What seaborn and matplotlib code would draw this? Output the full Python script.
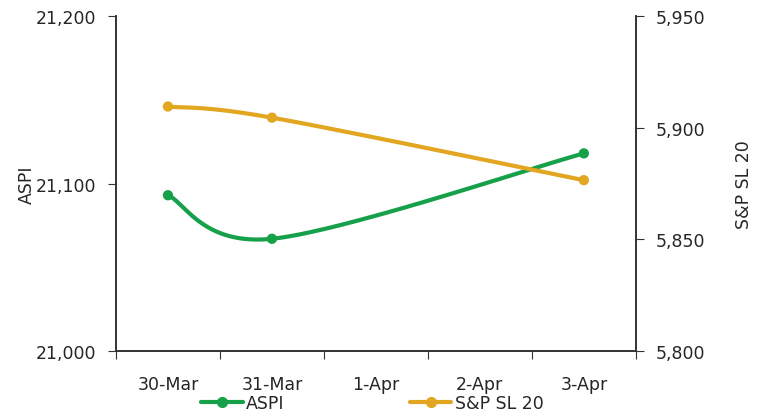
import numpy as np
import pandas as pd
import matplotlib
matplotlib.use('Agg')
import matplotlib.pyplot as plt
from matplotlib.lines import Line2D
import seaborn as sns

# data
dates = ['30-Mar', '31-Mar', '1-Apr', '2-Apr', '3-Apr']
trade_idx = [0, 1, 4]  # days with a close (1-Apr and 2-Apr have none)
aspi = [21093, 21067, 21118]
snp = [5909.5, 5904.5, 5876.5]

green = '#16A04A'
gold = '#E2A620'


def excel_smooth(xs, ys, n=60):
    # bezier smoothing the way spreadsheet "smoothed line" charts do it
    pts = np.column_stack([xs, ys]).astype(float)
    pad = np.vstack([pts[0], pts, pts[-1]])
    out = []
    for i in range(len(pts) - 1):
        p0, p1 = pad[i + 1], pad[i + 2]
        c1 = p0 + (pad[i + 2] - pad[i]) / 6
        c2 = p1 - (pad[i + 3] - pad[i + 1]) / 6
        t = np.linspace(0, 1, n)[:, None]
        seg = (1 - t) ** 3 * p0 + 3 * (1 - t) ** 2 * t * c1 + 3 * (1 - t) * t ** 2 * c2 + t ** 3 * p1
        out.append(seg if i == 0 else seg[1:])
    seg = np.vstack(out)
    return pd.DataFrame({'x': seg[:, 0], 'y': seg[:, 1]})


sns.set_style('ticks')
plt.rcParams['font.family'] = ['DejaVu Sans']
plt.rcParams['font.size'] = 12.5

fig = plt.figure(figsize=(7.6, 4.14), dpi=100)
ax = fig.add_axes([0.1526, 0.1498, 0.684, 0.809])
ax2 = ax.twinx()

sns.lineplot(data=excel_smooth(trade_idx, aspi), x='x', y='y', ax=ax, color=green,
             linewidth=3, sort=False, estimator=None)
sns.scatterplot(x=trade_idx, y=aspi, ax=ax, color=green, s=55, edgecolor='none', zorder=5)
sns.lineplot(data=excel_smooth(trade_idx, snp), x='x', y='y', ax=ax2, color=gold,
             linewidth=3, sort=False, estimator=None)
sns.scatterplot(x=trade_idx, y=snp, ax=ax2, color=gold, s=55, edgecolor='none', zorder=5)

ax.set_xlim(-0.5, 4.5)
ax.set_ylim(21000, 21200)
ax.set_yticks([21000, 21100, 21200])
ax.set_yticklabels([f'{v:,}' for v in [21000, 21100, 21200]])
ax2.set_ylim(5800, 5950)
ax2.set_yticks([5800, 5850, 5900, 5950])
ax2.set_yticklabels([f'{v:,}' for v in [5800, 5850, 5900, 5950]])

ax.set_xticks(np.arange(-0.5, 5, 1))
ax.set_xticklabels([])
ax.set_xticks(range(len(dates)), minor=True)
ax.set_xticklabels(dates, minor=True)
ax.tick_params(axis='x', which='minor', length=0, pad=17)
ax.tick_params(axis='x', which='major', length=6, direction='out', color='#333333')
ax.tick_params(axis='y', length=6, color='#333333', pad=8)
ax2.tick_params(axis='y', length=6, color='#333333', pad=8)

ax.set_xlabel('')
ax.set_ylabel('ASPI', labelpad=0)
ax2.set_xlabel('')
ax2.set_ylabel('S&P SL 20', rotation=90, labelpad=22)

for a in (ax, ax2):
    a.spines['top'].set_visible(False)
    for s in ('left', 'right', 'bottom'):
        a.spines[s].set_color('#333333')
        a.spines[s].set_linewidth(1.2)

handles = [Line2D([], [], color=green, lw=3, marker='o', ms=7),
           Line2D([], [], color=gold, lw=3, marker='o', ms=7)]
fig.legend(handles, ['ASPI', 'S&P SL 20'], loc='center', bbox_to_anchor=(0.49, 0.025),
           ncol=2, frameon=False, handlelength=2.4, handletextpad=0.2, columnspacing=7.2)

fig.savefig('out.png', dpi=100)
